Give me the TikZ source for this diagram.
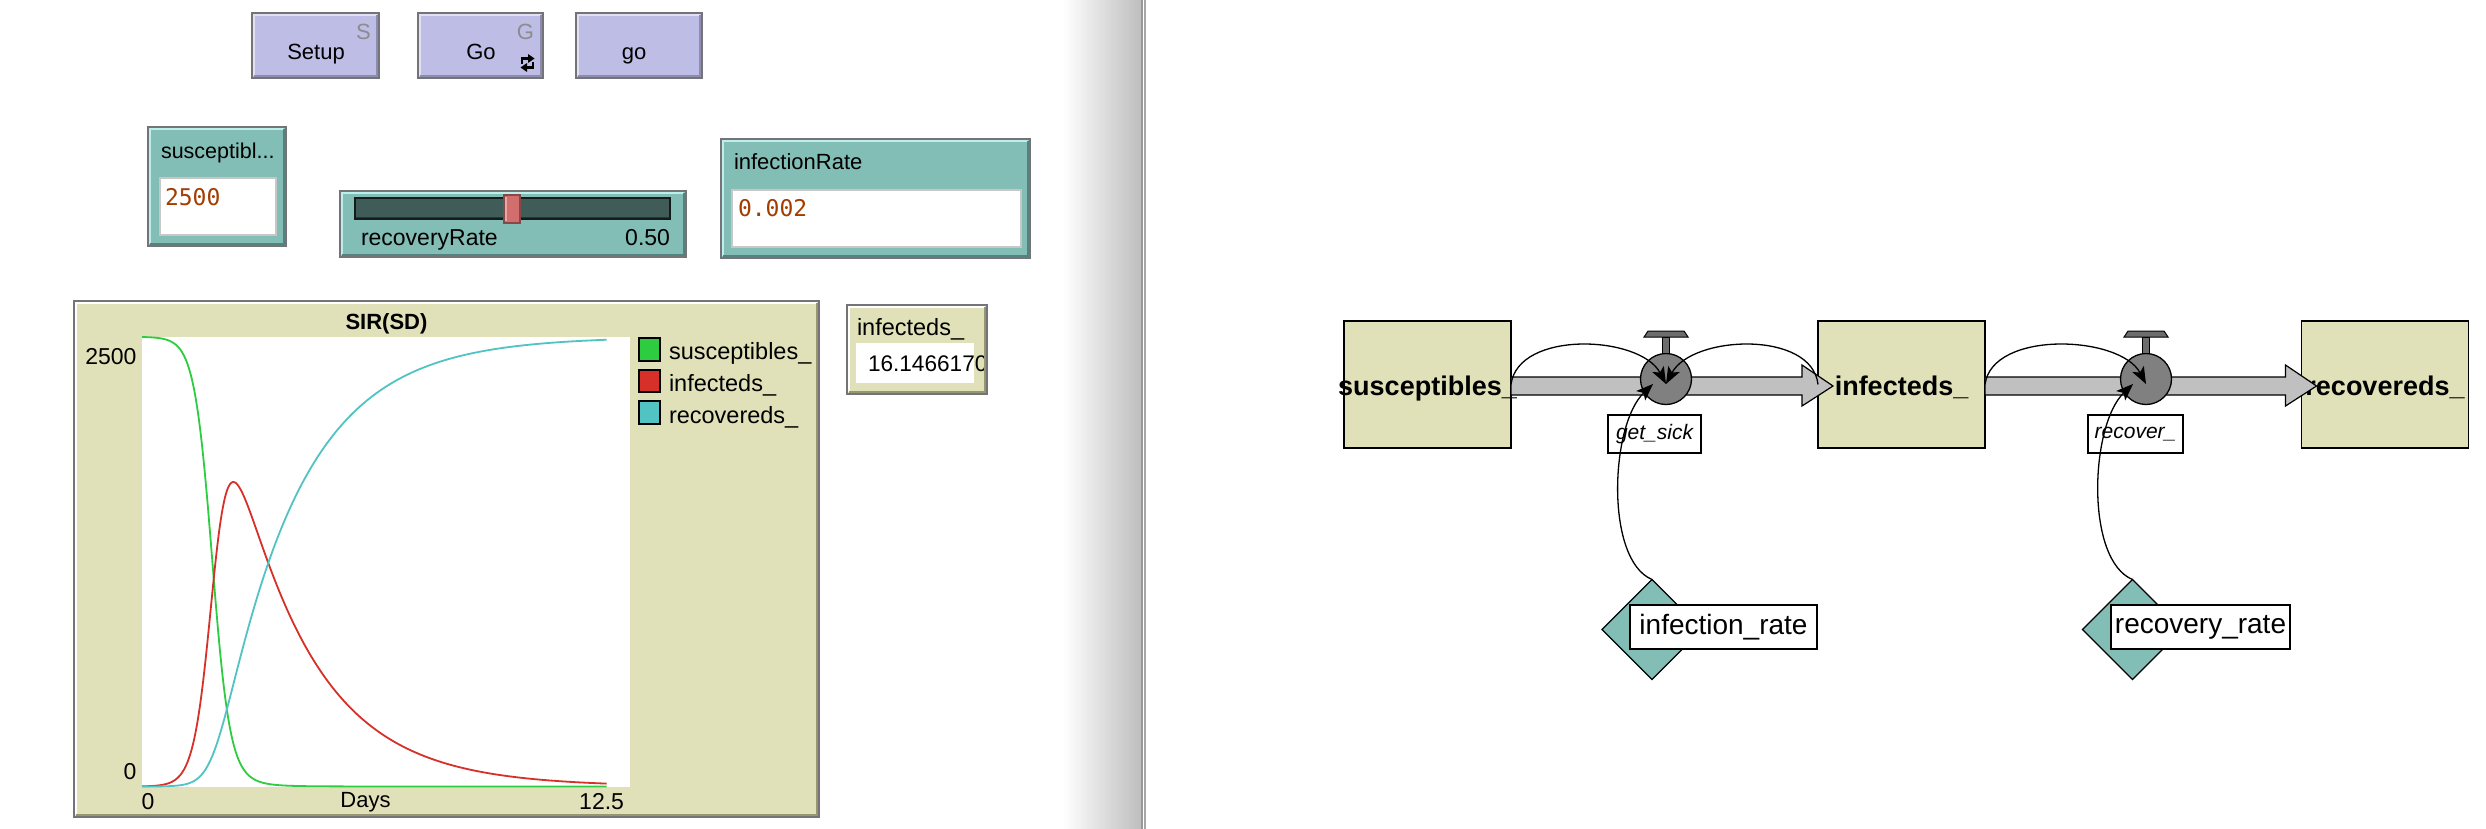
\documentclass[tikz,border=0pt]{standalone}
\usepackage{fontspec}
\setmainfont{Liberation Sans}
\newfontfamily\monof{DejaVu Sans Mono}
\usetikzlibrary{arrows.meta,shapes.geometric}

\definecolor{beige}{RGB}{225,225,185}
\definecolor{teal2}{RGB}{130,189,182}
\definecolor{lav}{RGB}{189,189,230}
\definecolor{lavdark}{RGB}{140,140,178}
\definecolor{track}{RGB}{64,92,89}
\definecolor{knob}{RGB}{210,110,110}
\definecolor{brownv}{RGB}{163,61,0}
\definecolor{pgreen}{RGB}{46,204,64}
\definecolor{pred}{RGB}{215,48,40}
\definecolor{pcyan}{RGB}{82,195,195}
\definecolor{bandgray}{RGB}{192,192,192}
\definecolor{valvegray}{RGB}{128,128,128}
\definecolor{divgray}{RGB}{190,190,190}
\definecolor{edgegray}{RGB}{115,115,120}
\definecolor{tealhi}{RGB}{190,238,236}
\definecolor{tealdark}{RGB}{85,130,126}
\definecolor{beigedark}{RGB}{150,150,112}

\newcommand\fs[1]{\fontsize{#1}{#1}\selectfont}

% x1 y1 x2 y2 fill light dark
\newcommand\widget[7]{%
  \fill[#5] (#1,#2) rectangle (#3,#4);
  \draw[#6, line width=2.4pt] (#1+2.2,#4-2.2) -- (#1+2.2,#2+2.2) -- (#3-2.2,#2+2.2);
  \draw[#7, line width=2.4pt] (#1+2.2,#4-2.2) -- (#3-2.2,#4-2.2) -- (#3-2.2,#2+2.2);
  \draw[line width=1.4pt, draw=edgegray] (#1,#2) rectangle (#3,#4);
}

\begin{document}
\begin{tikzpicture}[x=1pt,y=-1pt,
  every node/.style={inner sep=0pt, outer sep=0pt},
  conn/.style={line width=1.3pt, -{Stealth[length=17pt,width=13pt,inset=4pt]}},
  stock/.style={draw=black, line width=1.3pt, fill=beige, minimum width=167pt, minimum height=127pt},
  stocktxt/.style={anchor=base, font={\fs{27}\bfseries}},
  valve/.style={circle, draw=black, line width=1.3pt, fill=valvegray, minimum size=51pt},
  band/.style={fill=bandgray, draw=black, line width=1.2pt, line join=miter},
  flowlbl/.style={draw=black, line width=1.2pt, fill=white, minimum height=38pt, font={\fs{21}\itshape}},
  conv/.style={diamond, draw=black, line width=1.2pt, fill=teal2, minimum width=100pt, minimum height=100pt},
  convlbl/.style={draw=black, line width=1.2pt, fill=white, minimum height=44pt, font={\fs{28}}},
  wtxt/.style={font={\fs{22}}},
  pcurve/.style={line width=1.8pt, line join=round}]

\useasboundingbox (0,0) rectangle (2486,829);
\fill[white] (0,0) rectangle (2486,829);

% ---------- divider
\shade[left color=white, right color=divgray] (1063,0) rectangle (1141,829);
\fill[black!40] (1141,0) rectangle (1143.2,829);
\fill[black!35] (1144.3,0) rectangle (1146,829);

% ---------- buttons
\widget{252}{13}{379}{78}{lav}{white!55!lav}{lavdark}
\widget{418}{13}{543}{78}{lav}{white!55!lav}{lavdark}
\widget{576}{13}{702}{78}{lav}{white!55!lav}{lavdark}
\node[wtxt, anchor=base] (bsetup) at (316,60) {Setup};
\node[wtxt, anchor=base, text=black!45] (bsetupk) at (363.5,40) {S};
\node[wtxt, anchor=base] (bgo) at (481,60) {Go};
\node[wtxt, anchor=base, text=black!45] (bgok) at (525.5,40) {G};
\node[wtxt, anchor=base] (bgo2) at (634,60) {go};
\draw[line width=2.6pt] (522,64) -- (522,58.5) -- (529,58.5);
\fill (528,54) -- (534.5,58.5) -- (528,63) -- cycle;
\draw[line width=2.6pt] (533,62) -- (533,67.5) -- (526,67.5);
\fill (527,63) -- (520.5,67.5) -- (527,72) -- cycle;

% ---------- input susceptibles
\widget{148}{127}{286}{246}{teal2}{tealhi}{tealdark}
\node[font={\fs{21.5}}, anchor=base west] (inlbl) at (161,159) {susceptibl...};
\filldraw[fill=white, draw=black!22, line width=2pt] (160,178) rectangle (276,235);
\node[font={\monof\fs{23}}, text=brownv, anchor=base west] (inval) at (165,205) {2500};

% ---------- slider
\widget{340}{191}{686}{257}{teal2}{tealhi}{tealdark}
\filldraw[fill=track, draw=black!70!track, line width=1.2pt] (355,198) rectangle (670,219);
\draw[black!40!track, line width=1.5pt] (356,217.5) -- (669,217.5);
\filldraw[fill=knob, draw=black!35!knob, line width=1.2pt] (504,195) rectangle (520,223);
\draw[white!40!knob, line width=1.5pt] (506,197) -- (506,221);
\node[font={\fs{23}}, anchor=base west] (sllbl) at (361,245) {recoveryRate};
\node[font={\fs{23}}, anchor=base east] (slval) at (670,245) {0.50};

% ---------- input infectionRate
\widget{721}{139}{1030}{258}{teal2}{tealhi}{tealdark}
\node[wtxt, anchor=base west] (irlbl) at (734,170) {infectionRate};
\filldraw[fill=white, draw=black!22, line width=2pt] (732,190) rectangle (1021,247);
\node[font={\monof\fs{23}}, text=brownv, anchor=base west] (irval) at (738,217) {0.002};

% ---------- monitor
\widget{847}{305}{987}{394}{beige}{white}{beigedark}
\node[font={\fs{23.5}}, anchor=base west] (monlbl) at (857,335) {infecteds\_};
\fill[white] (856,343) rectangle (974,383);
\begin{scope}
\clip (856,340) rectangle (983,390);
\node[font={\fs{22.6}}, anchor=base west] (monval) at (868,371) {16.1466170};
\end{scope}

% ---------- plot
\widget{74}{301}{819}{817}{beige}{white}{beigedark}
\fill[white] (142,337) rectangle (630,786.5);
\node[font={\fs{22}\bfseries}, anchor=base] (ptitle) at (386.5,329) {SIR(SD)};
\node[font={\fs{23}}, anchor=east] (ymax) at (136.5,357) {2500};
\node[font={\fs{23}}, anchor=east] (ymin) at (136.5,772) {0};
\node[font={\fs{23}}, anchor=west] (xmin) at (141.5,802) {0};
\node[font={\fs{22}}] (xlab) at (365.5,802) {Days};
\node[font={\fs{23}}, anchor=east] (xmax) at (624,802) {12.5};
\filldraw[fill=pgreen, draw=black, line width=1.5pt] (639,338) rectangle (660,361);
\filldraw[fill=pred, draw=black, line width=1.5pt] (639,370) rectangle (660,392);
\filldraw[fill=pcyan, draw=black, line width=1.5pt] (639,401) rectangle (660,424);
\node[font={\fs{23.5}}, anchor=base west] (lg1) at (669,359) {susceptibles\_};
\node[font={\fs{23.5}}, anchor=base west] (lg2) at (669,391) {infecteds\_};
\node[font={\fs{23.5}}, anchor=base west] (lg3) at (669,423) {recovereds\_};

% simulation (Euler, dt = 0.025, to t = 11.9)
\def\simdt{0.025}\def\simN{476}
\gdef\Sv{2500}\gdef\Iv{1}\gdef\Rv{0}
\gdef\pS{(0,2500)}\gdef\pI{(0,1)}\gdef\pR{(0,0)}
\foreach \k in {1,...,\simN}{%
  \xdef\Fi{\fpeval{0.002*\Sv*\Iv}}%
  \xdef\Fr{\fpeval{0.5*\Iv}}%
  \xdef\Sv{\fpeval{\Sv-\simdt*\Fi}}%
  \xdef\Iv{\fpeval{\Iv+\simdt*(\Fi-\Fr)}}%
  \xdef\Rv{\fpeval{\Rv+\simdt*\Fr}}%
  \xdef\Tv{\fpeval{\k*\simdt}}%
  \xdef\pS{\pS--(\Tv,\fpeval{round(\Sv,3)})}%
  \xdef\pI{\pI--(\Tv,\fpeval{round(\Iv,3)})}%
  \xdef\pR{\pR--(\Tv,\fpeval{round(\Rv,3)})}%
}
\begin{scope}[shift={(142,786.5)}, xscale=39.04, yscale=-0.1798]
  \edef\tmp{\noexpand\draw[pcurve,pgreen] \pS;}\tmp
  \edef\tmp{\noexpand\draw[pcurve,pred] \pI;}\tmp
  \edef\tmp{\noexpand\draw[pcurve,pcyan] \pR;}\tmp
\end{scope}

% ---------- stock and flow diagram
\node[stock] (sus) at (1427.5,384.5) {};
\node[stock] (inf) at (1901.5,384.5) {};
\node[stock] (rec) at (2385,384.5) {};
\node[stocktxt] (sust) at ([yshift=-10.5pt]sus.center) {susceptibles\_};
\node[stocktxt] (inft) at ([yshift=-10.5pt]inf.center) {infecteds\_};
\node[stocktxt] (rect) at ([yshift=-10.5pt]rec.center) {recovereds\_};

\filldraw[band] ([yshift=7.5pt]sus.east) -- ([xshift=-16pt,yshift=7.5pt]inf.west)
  -- ([xshift=-16pt,yshift=19.5pt]inf.west) -- ([xshift=15pt,yshift=-1.5pt]inf.west)
  -- ([xshift=-16pt,yshift=-21.5pt]inf.west) -- ([xshift=-16pt,yshift=-10.5pt]inf.west)
  -- ([yshift=-10.5pt]sus.east) -- cycle;
\filldraw[band] ([yshift=7.5pt]inf.east) -- ([xshift=-16pt,yshift=7.5pt]rec.west)
  -- ([xshift=-16pt,yshift=19.5pt]rec.west) -- ([xshift=15pt,yshift=-1.5pt]rec.west)
  -- ([xshift=-16pt,yshift=-21.5pt]rec.west) -- ([xshift=-16pt,yshift=-10.5pt]rec.west)
  -- ([yshift=-10.5pt]inf.east) -- cycle;

\node[valve] (gs) at (1666,379) {};
\node[valve] (rc) at (2146,379) {};
\foreach \v in {gs,rc}{%
  \begin{scope}[shift={(\v.center)}]
    \filldraw[fill=valvegray!85!black, line width=1pt] (-3.5,-42) rectangle (3.5,-26);
    \filldraw[fill=valvegray!85!black, line width=1pt] (-18,-48) -- (18,-48) -- (22,-42) -- (-22,-42) -- cycle;
  \end{scope}}

\node[flowlbl, minimum width=93pt] (gsl) at (1654.5,434) {get\_sick};
\node[flowlbl, minimum width=95pt] (rcl) at (2135.5,434) {recover\_};

\node[conv] (ir) at (1652,629.5) {};
\node[conv] (rr) at (2132.5,629.5) {};
\node[convlbl, minimum width=187pt] (irl) at (1723.5,627) {infection\_rate};
\node[convlbl, minimum width=179pt] (rrl) at (2200.5,627) {recovery\_rate};

\coordinate (gsin) at ([yshift=-5pt]gs.center);
\coordinate (gsb) at ([shift={(-13pt,-5pt)}]gs.center);
\coordinate (rcin) at ([yshift=-5pt]rc.center);
\coordinate (rcb) at ([shift={(-13pt,-5pt)}]rc.center);

\draw[conn] (sus.east) .. controls (1518,330) and (1640,335) .. (gsin);
\draw[conn] (inf.west) .. controls (1812,330) and (1692,335) .. (gsin);
\draw[conn] (inf.east) .. controls (1992,330) and (2120,335) .. (rcin);
\draw[conn] (ir.north) .. controls (1605,560) and (1610,425) .. (gsb);
\draw[conn] (rr.north) .. controls (2085,560) and (2090,425) .. (rcb);
\end{tikzpicture}
\end{document}
